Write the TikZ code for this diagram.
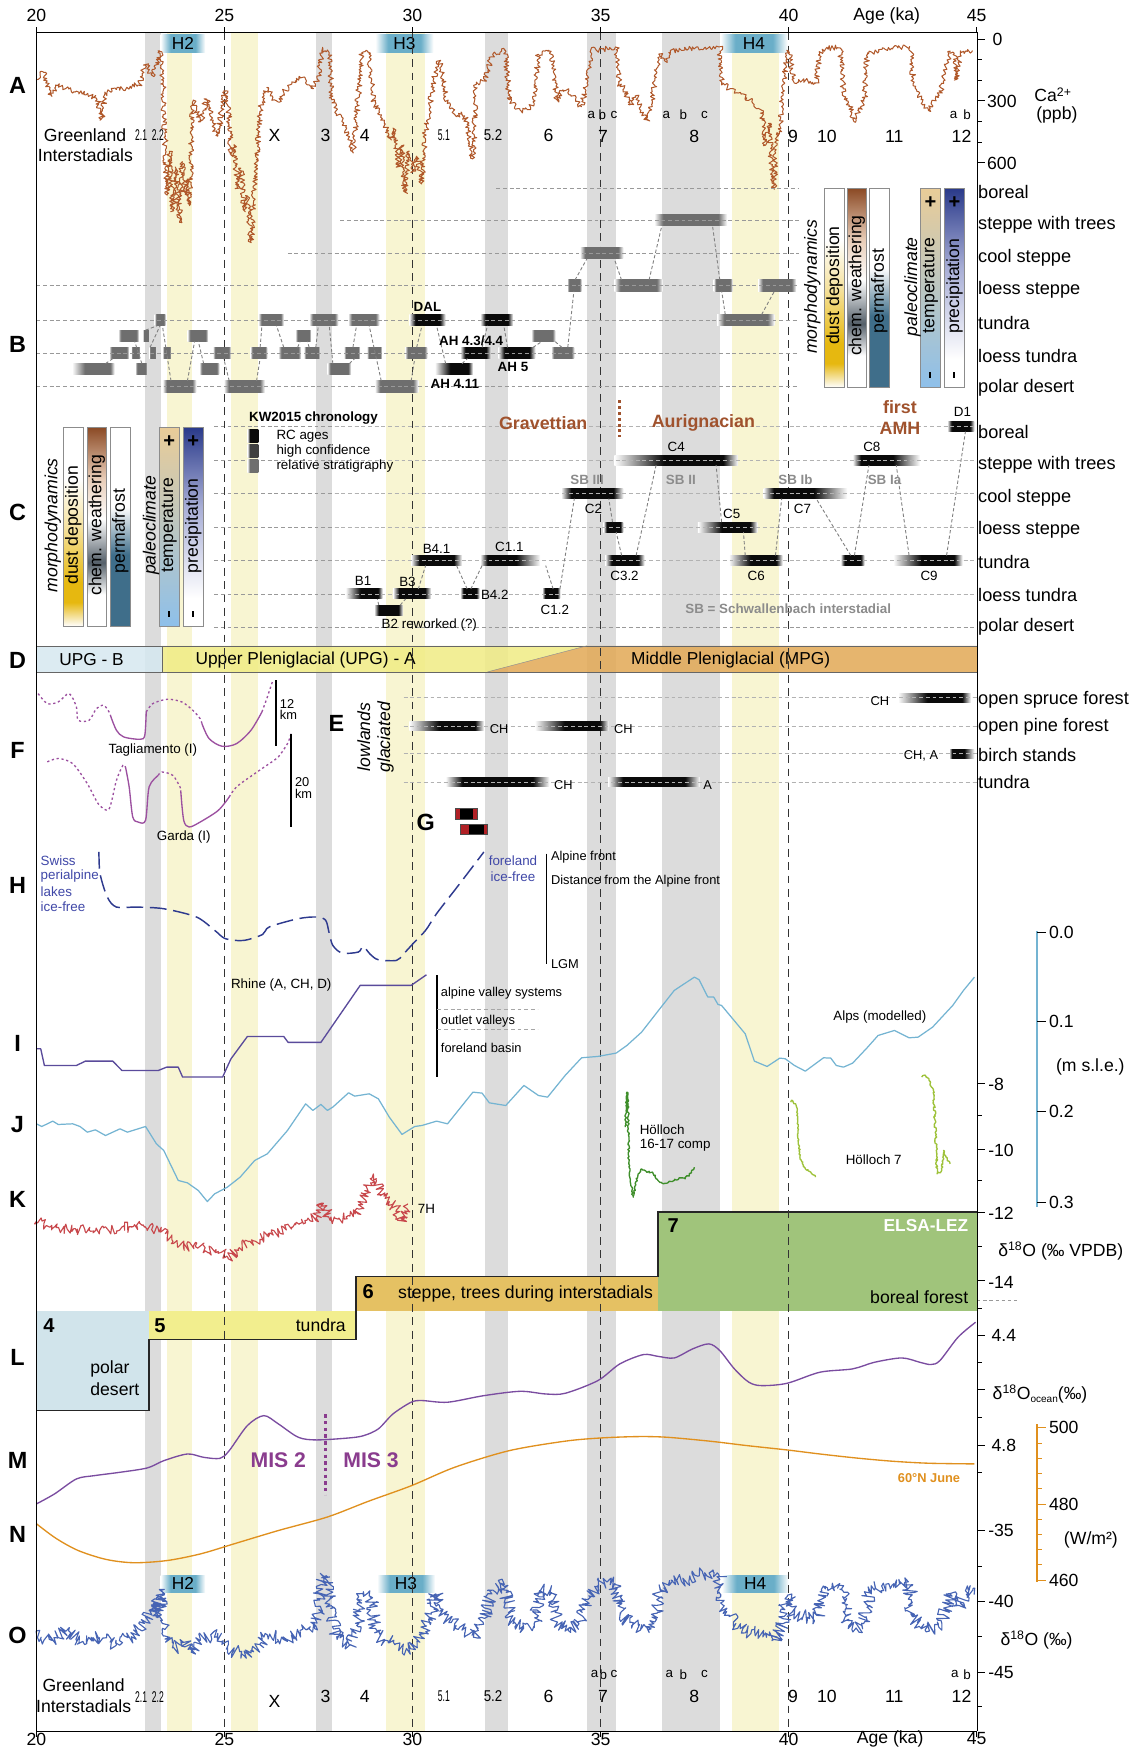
\documentclass[tikz,border=0pt]{standalone}
\usepackage{fontspec}
\usepackage{graphicx}
\setmainfont{Liberation Sans}
\usetikzlibrary{decorations.pathmorphing,calc}
\definecolor{gband}{HTML}{DCDCDC}
\definecolor{yband}{HTML}{F8F5D2}
\definecolor{caC}{HTML}{B0582A}
\definecolor{kC}{HTML}{C8484C}
\definecolor{oC}{HTML}{4664B4}
\definecolor{jC}{HTML}{74B4D2}
\definecolor{iC}{HTML}{5A4B9B}
\definecolor{mC}{HTML}{7A4CA0}
\definecolor{nC}{HTML}{E0901E}
\definecolor{fC}{HTML}{9C50A0}
\definecolor{hC}{HTML}{2E3A8E}
\definecolor{htxt}{HTML}{4048A8}
\definecolor{g1C}{HTML}{3E8E2A}
\definecolor{g2C}{HTML}{9EC23A}
\definecolor{dB}{HTML}{D6E8F0}
\definecolor{dY}{HTML}{F0EC84}
\definecolor{dO}{HTML}{E2A955}
\definecolor{lfour}{HTML}{D1E4EB}
\definecolor{lfive}{HTML}{F2EE8E}
\definecolor{lsix}{HTML}{E5C163}
\definecolor{lseven}{HTML}{A0C47B}
\definecolor{brn}{HTML}{A0522D}
\definecolor{sbg}{HTML}{8C8C8C}
\definecolor{misC}{HTML}{8A3C8E}
\definecolor{bgr}{HTML}{6E6E6E}
\definecolor{bdk}{HTML}{404040}
\definecolor{bk}{HTML}{0A0A0A}
\definecolor{hpill}{HTML}{6AAEC8}
\definecolor{dustY}{HTML}{E6B810}
\definecolor{dustL}{HTML}{F5E2A0}
\definecolor{chemB}{HTML}{8B4A25}
\definecolor{chemL}{HTML}{E8CDB8}
\definecolor{chemG}{HTML}{55606A}
\definecolor{permB}{HTML}{3F6E8A}
\definecolor{tempT}{HTML}{E9CC98}
\definecolor{tempB}{HTML}{8EC0EA}
\definecolor{precN}{HTML}{2A3A8A}
\definecolor{precM}{HTML}{A8AED6}
\definecolor{gRed}{HTML}{B02025}
\pgfdeclarehorizontalshading{shGr}{100bp}{color(0bp)=(white); color(25bp)=(white); color(31bp)=(bgr); color(69bp)=(bgr); color(75bp)=(white); color(100bp)=(white)}
\pgfdeclarehorizontalshading{shGrL}{100bp}{color(0bp)=(white); color(25bp)=(white); color(40bp)=(bgr); color(70bp)=(bgr); color(75bp)=(white); color(100bp)=(white)}
\pgfdeclarehorizontalshading{shBk}{100bp}{color(0bp)=(white); color(25bp)=(white); color(33bp)=(bk); color(67bp)=(bk); color(75bp)=(white); color(100bp)=(white)}
\pgfdeclarehorizontalshading{shBkL}{100bp}{color(0bp)=(white); color(25bp)=(white); color(45bp)=(bk); color(69bp)=(bk); color(75bp)=(white); color(100bp)=(white)}
\pgfdeclarehorizontalshading{shBkR}{100bp}{color(0bp)=(white); color(25bp)=(white); color(31bp)=(bk); color(55bp)=(bk); color(75bp)=(white); color(100bp)=(white)}
\pgfdeclarehorizontalshading{shH}{100bp}{color(0bp)=(white); color(25bp)=(white); color(36bp)=(hpill); color(64bp)=(hpill); color(75bp)=(white); color(100bp)=(white)}
\pgfdeclarehorizontalshading{legK}{100bp}{color(0bp)=(white); color(25bp)=(white); color(36bp)=(bk); color(100bp)=(bk)}
\pgfdeclarehorizontalshading{legD}{100bp}{color(0bp)=(white); color(25bp)=(white); color(36bp)=(bdk); color(100bp)=(bdk)}
\pgfdeclarehorizontalshading{legG}{100bp}{color(0bp)=(white); color(25bp)=(white); color(36bp)=(bgr); color(100bp)=(bgr)}
\pgfdeclareverticalshading{dustsh}{100bp}{color(0bp)=(white); color(25bp)=(white); color(31bp)=(dustY); color(36bp)=(dustY); color(50bp)=(dustL); color(62bp)=(white); color(100bp)=(white)}
\pgfdeclareverticalshading{chemsh}{100bp}{color(0bp)=(white); color(25bp)=(white); color(33bp)=(white); color(41bp)=(chemG); color(52bp)=(white); color(62bp)=(chemL); color(75bp)=(chemB); color(100bp)=(chemB)}
\pgfdeclareverticalshading{permsh}{100bp}{color(0bp)=(permB); color(25bp)=(permB); color(43bp)=(permB); color(55bp)=(white); color(100bp)=(white)}
\pgfdeclareverticalshading{tempsh}{100bp}{color(0bp)=(tempB); color(25bp)=(tempB); color(75bp)=(tempT); color(100bp)=(tempT)}
\pgfdeclareverticalshading{precsh}{100bp}{color(0bp)=(white); color(25bp)=(white); color(32bp)=(white); color(55bp)=(precM); color(75bp)=(precN); color(100bp)=(precN)}
\newcommand\fsz[1]{\fontsize{#1}{#1}\selectfont}
\newcommand\blk[6]{\node[blkbase,shading=#1,minimum width={(#4)-(#3)},minimum height=#6] (#2) at ({((#3)+(#4))/2},#5) {};}
\newcommand\cnx[4]{\draw[conn] (#1.north -| #2,0) -- (#3.south -| #4,0);}
\newcommand\cnd[1]{\scalebox{0.55}[1]{#1}}
\begin{document}
\begin{tikzpicture}[x=1pt,y=-1pt,
 every node/.style={inner sep=0pt,outer sep=0pt},
 lbl/.style={font=\fsz{15.8}},
 lblw/.style={font=\fsz{15.8},anchor=west},
 rlbl/.style={font=\fsz{16.3},anchor=west},
 big/.style={font=\fsz{21}\bfseries},
 sm/.style={font=\fsz{12}},
 smw/.style={font=\fsz{11.5},anchor=west},
 rowline/.style={draw=black!40,dash pattern=on 3.5pt off 2.5pt,line width=0.6pt},
 conn/.style={draw=black!50,dash pattern=on 3pt off 2pt,line width=0.8pt},
 vdash/.style={draw=black!80,dash pattern=on 7pt off 5pt,line width=0.7pt},
 blkbase/.style={shade,draw=none},
 barbox/.style={shade,draw=black!45,line width=0.6pt,minimum width=17.4pt,minimum height=178.4pt},
 pill/.style={shade,shading=shH,minimum height=16pt,font=\fsz{15.5}},
 sbl/.style={font=\fsz{12}\bfseries,text=sbg},
 brl/.style={font=\fsz{16}\bfseries,text=brn},
 tick/.style={line width=0.8pt},
 noisy/.style={line join=round,decorate,decoration={random steps,segment length=1.2pt,amplitude=#1,transform={xscale=0.25}}}
]
\useasboundingbox (0,0) rectangle (1018,1568);
\fill[white] (0,0) rectangle (1018,1568);
% ---------- bands
\foreach \a/\b in {130/144.5, 283/297.5, 435/455.6, 526.6/552.6, 593.7/645.7}
  \fill[gband] (\a,29) rectangle (\b,1552);
\foreach \a/\b in {149.4/171.9, 207/231.5, 346.4/381, 656/698.5}
  \fill[yband] (\a,29) rectangle (\b,1552);
% ---------- H pills
\node[pill,minimum width=40pt] (ph2) at (164,39) {H2};
\node[pill,minimum width=52pt] (ph3) at (362.5,39) {H3};
\node[pill,minimum width=60pt] (ph4) at (676,39) {H4};
\node[pill,minimum width=40pt] (qh2) at (164,1420) {H2};
\node[pill,minimum width=52pt] (qh3) at (364,1420) {H3};
\node[pill,minimum width=60pt] (qh4) at (677,1420) {H4};
% ---------- C and E row lines
\foreach \y in {382.5,412.5,442.5,472.5,502.5,532.5,562.5}
  \draw[rowline] (192,\y) -- (876,\y);
\foreach \y in {625.4,650.8,675.6,701}
  \draw[rowline] (362,\y) -- (876,\y);
% ---------- D band
\fill[dB,fill opacity=0.85] (32.6,579) rectangle (145.1,602.4);
\fill[dY,fill opacity=0.85] (145.1,579) -- (526,579) -- (437,602.4) -- (145.1,602.4) -- cycle;
\fill[dO,fill opacity=0.85] (437,602.4) -- (526,579) -- (876,579) -- (876,602.4) -- cycle;
\draw[black!60,line width=0.6pt] (32.6,579) rectangle (876,602.4);
\draw[black!60,line width=0.6pt] (145.1,579) -- (145.1,602.4);
\draw[black!45,line width=0.4pt] (437,602.4) -- (526,579);
\node[font=\fsz{15.5}] (dtb) at (82,591.5) {UPG - B};
\node[font=\fsz{15.5}] (dta) at (274,591.5) {Upper Pleniglacial (UPG) - A};
\node[font=\fsz{15.5}] (dtm) at (655,591.5) {Middle Pleniglacial (MPG)};
% ---------- L boxes
\fill[lfour] (32.6,1175) rectangle (133.7,1264.6);
\fill[lfive] (133.7,1175) rectangle (319,1200.9);
\fill[lsix] (319,1144.4) rectangle (589.9,1175.5);
\fill[lseven] (589.9,1086.7) rectangle (876,1175.5);
\draw[line width=1.6pt,black!85] (32.6,1264.6) -| (133.7,1200.9) -| (319,1144.4) -| (589.9,1086.7) -- (876,1086.7);
\node[font=\fsz{18}\bfseries] (l4n) at (44,1188.4) {4};
\node[lblw] (l4a) at (81,1227.2) {polar};
\node[lblw] (l4b) at (81,1245.2) {desert};
\node[font=\fsz{18}\bfseries] (l5n) at (143.5,1188.4) {5};
\node[lbl,anchor=east] (l5a) at (310,1188.4) {tundra};
\node[font=\fsz{18}\bfseries] (l6n) at (330,1157.6) {6};
\node[lblw] (l6a) at (357,1160) {steppe, trees during interstadials};
\node[font=\fsz{18}\bfseries] (l7n) at (603.6,1098.5) {7};
\node[font=\fsz{15.5}\bfseries,text=white,anchor=east] (l7a) at (868,1098.5) {ELSA-LEZ};
\node[lbl,anchor=east] (l7b) at (868,1163) {boreal forest};
% ---------- vertical dashed lines
\foreach \k in {1,2,3,4}
  \draw[vdash] ({32.6+168.6*\k},29) -- ({32.6+168.6*\k},1552);
% ---------- A: Ca curve
\pgfmathsetseed{11}
\draw[caC,line width=0.9pt,noisy=2.6pt]
 plot coordinates {(32.6,72) (39,64) (45.7,86) (52,76) (60,80) (70,82) (80,84) (88,90) (91,108) (94,84) (105,80) (115,78) (125,76) (130.5,57) (136,68) (140,60) (143.5,45) (146,70) (148.4,140) (150,175) (152,135) (155,190) (158,150) (161,200) (163,145) (166,175) (168,160) (170,185) (172,120) (173,90) (176,100) (180,110) (185,88) (188,95) (192,115) (195.7,122) (199,95) (202,81) (205,100) (207,140) (210,130) (213,170) (216,150) (219,190) (222,175) (225,218) (228,165) (231,130) (233,99) (237,85) (241,78) (245,88) (250,92) (255,82) (260,78) (265,72) (270,69) (275,76) (280,80) (285,70) (288.6,45) (295,45) (297.5,90) (302,100) (307,110) (313,125) (316.4,137) (320,100) (324.5,46) (331,46) (334.3,90) (340,100) (345,110) (350,125) (353,115) (357,150) (360,130) (363,173) (366,135) (370,155) (374,140) (378,165) (381,120) (385,98) (389,70) (393,54) (396,60) (399.5,87) (404,95) (409,105) (414,100) (419,110) (424,143) (427,75) (434,72) (442,48) (453,45) (456.6,90) (462,96) (468,100) (474,98) (479,92) (482.7,48) (492.5,45) (497,60) (499,90) (505,80) (511,82) (516.5,90) (521.6,96) (528,60) (529.6,45) (541,44) (552.4,42) (555,75) (560,80) (565,95) (570,85) (575,100) (580,108) (584.9,90) (591.4,48) (596,55) (600,46) (620,43) (645.3,42) (647,75) (655,80) (663,84) (670,88) (675,92) (682.8,99) (686,131) (689,110) (692,150) (694,170) (696,120) (699,120) (704,60) (707,45) (712,75) (720,72) (731.6,75) (735,48) (741,43) (753.3,43) (756.5,87) (762,95) (766,110) (770,98) (775,90) (777.6,48) (790,44) (816,42) (819,75) (826,90) (833,100) (839,88) (842,87) (852,45) (856,48) (858,72) (861,48) (873,45)};
% ---------- A labels
\node[lbl] (grA) at (76.3,121) {Greenland};
\node[lbl] (grB) at (76.6,139) {Interstadials};
\node[font=\fsz{14}] (g21) at (126.5,121) {\cnd{2.1}};
\node[font=\fsz{14}] (g22) at (141.5,121) {\cnd{2.2}};
\node[lbl] (gX) at (246.2,121) {X};
\node[lbl] (g3) at (291.9,121) {3};
\node[lbl] (g4) at (327.1,121) {4};
\node[font=\fsz{14}] (g51) at (397.9,121) {\cnd{5.1}};
\node[font=\fsz{14}] (g52) at (442,121) {\scalebox{0.85}[1]{5.2}};
\node[lbl] (g6) at (491.8,121) {6};
\node[lbl] (g7) at (540.6,122) {7};
\node[lbl] (g8) at (622.5,122) {8};
\node[lbl] (g9) at (711,122) {9};
\node[lbl] (g10) at (741.4,122) {10};
\node[lbl] (g11) at (801.7,122) {11};
\node[lbl] (g12) at (862,122) {12};
\foreach \x/\t [count=\i] in {530.1/a,540/b,550.5/c,597.3/a,612.6/b,631.5/c,855/a,867/b}
  \node[sm] (gab\i) at (\x,103) {\t};
% ---------- B row lines and blocks
\blk{shGrL}{b1}{64.6}{102.7}{331}{10}
\blk{shGr}{b2}{97.8}{115.8}{316.5}{10}
\blk{shGr}{b3}{106}{124.6}{301}{10}
\blk{shGr}{b4}{117.4}{125.6}{316.5}{10}
\blk{shGr}{b5}{121.3}{132}{331}{10}
\blk{shGr}{b6}{128}{133.7}{301}{10}
\blk{shGr}{b7}{133.7}{140}{316.5}{10}
\blk{shGr}{b8}{138.6}{148.4}{287}{10}
\blk{shGr}{b9}{145.8}{153.3}{316.5}{10}
\blk{shGr}{b10}{145.8}{176}{346.5}{10}
\blk{shGr}{b11}{168}{186.6}{301}{10}
\blk{shGr}{b12}{178.7}{196.7}{331}{10}
\blk{shGr}{b13}{190.8}{207}{316.5}{10}
\blk{shGr}{b14}{200.6}{237.4}{346.5}{10}
\blk{shGr}{b15}{224.4}{239.7}{316.5}{10}
\blk{shGr}{b16}{231.6}{254.4}{287}{10}
\blk{shGr}{b17}{249.5}{270}{316.5}{10}
\blk{shGr}{b18}{264.8}{278.9}{301}{10}
\blk{shGr}{b19}{272.3}{287}{316.5}{10}
\blk{shGr}{b20}{277.2}{303.3}{287}{10}
\blk{shGr}{b21}{293.5}{314.7}{331}{10}
\blk{shGr}{b22}{308.2}{322.9}{316.5}{10}
\blk{shGr}{b23}{312}{340.2}{287}{10}
\blk{shGr}{b24}{328.8}{342.5}{316.5}{10}
\blk{shGr}{b25}{336}{375}{346.5}{10}
\blk{shGr}{b26}{363}{383.2}{316.5}{10}
\blk{shBk}{b27}{367}{399.5}{287}{10}
\blk{shBkL}{b28}{389.8}{424}{331}{10}
\blk{shBk}{b29}{412.6}{440.3}{316.5}{10}
\blk{shBk}{b30}{430.5}{460}{287}{10}
\blk{shBk}{b31}{446.8}{480}{316.5}{10}
\blk{shGr}{b32}{476.2}{498}{301}{10}
\blk{shGr}{b33}{494}{515}{316.5}{10}
\blk{shGr}{b35}{508.4}{521.4}{256}{10}
\blk{shGr}{b36}{519.8}{558.9}{227}{10}
\blk{shGr}{b37}{550.7}{594}{256}{10}
\blk{shGr}{b38}{586.6}{651.8}{197.5}{10}
\blk{shGr}{b39}{639.8}{656.7}{256}{10}
\blk{shGr}{b40}{643}{694.3}{287}{10}
\blk{shGr}{b41}{679.6}{713.8}{256}{10}
\draw[rowline] (445,169) -- (716,169);
\draw[rowline] (305,197.5) -- (716,197.5);
\draw[rowline] (258,227) -- (716,227);
\foreach \y in {256,287,316.5,346.5}
  \draw[rowline] (32.6,\y) -- (716,\y);
\cnx{b1}{94.6}{b2}{101.1}
\cnx{b5}{127.2}{b3}{120.7}
\cnx{b6}{130.5}{b8}{140.9}
\cnx{b7}{134.5}{b8}{143.5}
\cnx{b10}{153.3}{b8}{145.6}
\cnx{b10}{168}{b11}{174.5}
\cnx{b12}{182.6}{b11}{177.8}
\cnx{b14}{205.5}{b13}{200.6}
\cnx{b14}{230}{b15}{233.2}
\cnx{b15}{233.2}{b16}{234.8}
\cnx{b17}{254.4}{b16}{247.9}
\cnx{b17}{266.8}{b18}{269.1}
\cnx{b19}{277.2}{b18}{275.6}
\cnx{b19}{283.1}{b20}{285.4}
\cnx{b21}{298.4}{b20}{295.2}
\cnx{b21}{313.1}{b22}{318}
\cnx{b22}{316.4}{b23}{319.6}
\cnx{b25}{341.8}{b23}{331}
\cnx{b25}{368.6}{b26}{371.8}
\cnx{b26}{373.5}{b27}{378.3}
\cnx{b28}{399.5}{b27}{391.4}
\cnx{b28}{414.2}{b29}{419.1}
\cnx{b29}{432.2}{b30}{437}
\cnx{b31}{455}{b30}{451.7}
\cnx{b31}{477.8}{b32}{486}
\cnx{b33}{503.9}{b32}{497.4}
\cnx{b33}{509}{b35}{514.5}
\cnx{b35}{515.5}{b36}{526.2}
\cnx{b37}{557.2}{b36}{550.7}
\cnx{b37}{581.9}{b38}{593.3}
\cnx{b39}{645.3}{b38}{638.8}
\cnx{b40}{650.2}{b39}{647}
\cnx{b40}{682.8}{b41}{694.3}
\node[font=\fsz{12}\bfseries] (tDAL) at (383.2,275) {DAL};
\node[font=\fsz{12}\bfseries] (tAH43) at (422.4,305.8) {AH 4.3/4.4};
\node[font=\fsz{12}\bfseries] (tAH5) at (459.9,328.8) {AH 5};
\node[font=\fsz{12}\bfseries] (tAH411) at (407.7,343.8) {AH 4.11};
% ---------- B legend bars
\node[barbox,shading=dustsh] (bdust) at (748.1,258.1) {};
\node[barbox,shading=chemsh] (bchem) at (768.05,258.1) {};
\node[barbox,shading=permsh] (bperm) at (788.25,258.1) {};
\node[barbox,shading=tempsh] (btemp) at (834.15,258.1) {};
\node[barbox,shading=precsh] (bprec) at (855.7,258.1) {};
\node[lbl,rotate=90] (tbd) at (748.1,256) {dust deposition};
\node[lbl,rotate=90] (tbc) at (768.05,256) {chem. weathering};
\node[lbl,rotate=90] (tbp) at (788.25,261) {permafrost};
\node[lbl,rotate=90] (tbt) at (834.15,256) {temperature};
\node[lbl,rotate=90] (tbr) at (855.7,256.6) {precipitation};
\node[lbl,rotate=90,font=\fsz{15.8}\itshape] (tbm) at (728.3,257) {morphodynamics};
\node[lbl,rotate=90,font=\fsz{15.8}\itshape] (tbk) at (818.2,257) {paleoclimate};
\node[font=\fsz{18}\bfseries] (bpl1) at (834.15,181.7) {+};
\node[font=\fsz{18}\bfseries] (bpl2) at (855.7,181.7) {+};
\node[fill=black,minimum width=1.8pt,minimum height=5.5pt] (bmi1) at (834.15,336.3) {};
\node[fill=black,minimum width=1.8pt,minimum height=5.5pt] (bmi2) at (855.7,336.3) {};
% ---------- B labels right
\foreach \t/\y [count=\i] in {boreal/172.5,steppe with trees/201.5,cool steppe/231,loess steppe/260,tundra/289.5,loess tundra/319,polar desert/348}
  \node[rlbl] (rb\i) at (877,\y) {\t};
% ---------- C legend bars
\node[barbox,shading=dustsh] (cdust) at (65.7,472.3) {};
\node[barbox,shading=chemsh] (cchem) at (86.75,472.3) {};
\node[barbox,shading=permsh] (cperm) at (107.95,472.3) {};
\node[barbox,shading=tempsh] (ctemp) at (151.7,472.3) {};
\node[barbox,shading=precsh] (cprec) at (173.2,472.3) {};
\node[lbl,rotate=90] (tcd) at (65.7,471) {dust deposition};
\node[lbl,rotate=90] (tcc) at (86.75,471) {chem. weathering};
\node[lbl,rotate=90] (tcp) at (107.95,476) {permafrost};
\node[lbl,rotate=90] (tct) at (151.7,471) {temperature};
\node[lbl,rotate=90] (tcr) at (173.2,471.5) {precipitation};
\node[lbl,rotate=90,font=\fsz{15.8}\itshape] (tcm) at (47.3,471) {morphodynamics};
\node[lbl,rotate=90,font=\fsz{15.8}\itshape] (tck) at (135.4,471) {paleoclimate};
\node[font=\fsz{18}\bfseries] (cpl1) at (151.7,396) {+};
\node[font=\fsz{18}\bfseries] (cpl2) at (173.2,396) {+};
\node[fill=black,minimum width=1.8pt,minimum height=5.5pt] (cmi1) at (151.7,550.5) {};
\node[fill=black,minimum width=1.8pt,minimum height=5.5pt] (cmi2) at (173.2,550.5) {};
% ---------- KW legend
\node[font=\fsz{12}\bfseries,anchor=west] (kwt) at (223.4,375) {KW2015 chronology};
\node[blkbase,shading=legK,minimum width=9.8pt,minimum height=12pt] (kw1) at (226.7,390.7) {};
\node[blkbase,shading=legD,minimum width=9.8pt,minimum height=12pt] (kw2) at (226.7,404.1) {};
\node[blkbase,shading=legG,minimum width=9.8pt,minimum height=12pt] (kw3) at (226.7,417.6) {};
\node[font=\fsz{12},anchor=west] (kwa) at (247.9,390.7) {RC ages};
\node[font=\fsz{12},anchor=west] (kwb) at (247.9,404.1) {high confidence};
\node[font=\fsz{12},anchor=west] (kwc) at (247.9,417.6) {relative stratigraphy};
% ---------- C blocks
\blk{shBkL}{cB1}{309.8}{343.1}{532.5}{9}
\blk{shBk}{cB2}{335.3}{361.4}{547}{9}
\blk{shBk}{cB3}{352.3}{386.5}{532.5}{9}
\blk{shBk}{cB41}{368.6}{414.2}{502.5}{9}
\blk{shBk}{cB42}{412.6}{429.9}{532.5}{9}
\blk{shBkR}{cC11}{430.5}{484.3}{502.5}{9}
\blk{shBk}{cC12}{486}{502.3}{532.5}{9}
\blk{shBk}{cC2}{503}{558.9}{442.5}{9}
\blk{shBk}{cC3}{541}{558.9}{472.5}{9}
\blk{shBk}{cC32}{542.6}{577.8}{502.5}{9}
\blk{shBkL}{cC4}{550.7}{661.6}{412.5}{9}
\blk{shBkL}{cC5}{625.7}{678.9}{472.5}{9}
\blk{shBkL}{cC6}{653.5}{701.7}{502.5}{9}
\blk{shBkR}{cC7}{684.5}{759.5}{442.5}{9}
\blk{shBk}{cX}{753.6}{775.1}{502.5}{9}
\blk{shBkR}{cC8}{764.4}{824.7}{412.5}{9}
\blk{shBkL}{cC9}{800.9}{862.9}{502.5}{9}
\blk{shBk}{cD1}{849.2}{873.6}{382.5}{9}
\foreach \y in {382.5,412.5,442.5,472.5,502.5,532.5}
  \draw[rowline,draw=black!30] (300,\y) -- (876,\y);
\cnx{cB2}{339.6}{cB1}{338.3}
\cnx{cB2}{358.8}{cB3}{363.6}
\cnx{cB3}{375}{cB41}{381.6}
\cnx{cB42}{418.8}{cB41}{409.3}
\cnx{cB42}{422.1}{cC11}{432.2}
\cnx{cC12}{495.9}{cC11}{489.2}
\cnx{cC12}{502}{cC2}{514.9}
\cnx{cC3}{549.1}{cC2}{545.8}
\cnx{cC32}{557.3}{cC3}{552.4}
\cnx{cC32}{570.3}{cC4}{588.2}
\cnx{cC5}{646.9}{cC4}{642}
\cnx{cC6}{668.1}{cC5}{666.5}
\cnx{cC6}{695.2}{cC7}{700.8}
\cnx{cX}{762.7}{cC7}{731.7}
\cnx{cX}{766}{cC8}{779}
\cnx{cC9}{815}{cC8}{803.5}
\cnx{cC9}{848.6}{cD1}{865.5}
\node[sm] (tB1) at (325.5,521) {B1};
\node[sm] (tB3) at (365.3,521.6) {B3};
\node[sm] (tB2) at (384.9,560.5) {B2 reworked (?)};
\node[sm] (tB41) at (391.4,491.7) {B4.1};
\node[sm] (tB42) at (443.6,533) {B4.2};
\node[sm] (tC11) at (456.6,490.2) {C1.1};
\node[sm] (tC12) at (497.4,547) {C1.2};
\node[sm] (tC2) at (532.1,455.9) {C2};
\node[sm] (tC32) at (559.9,516.3) {C3.2};
\node[sm] (tC4) at (606.2,400.6) {C4};
\node[sm] (tC5) at (656,461) {C5};
\node[sm] (tC6) at (678,516.3) {C6};
\node[sm] (tC7) at (719.4,455.9) {C7};
\node[sm] (tC8) at (781.6,400.6) {C8};
\node[sm] (tC9) at (832.9,516.3) {C9};
\node[sm] (tD1) at (862.9,369.2) {D1};
\node[sbl] (sb3) at (526.3,430.5) {SB III};
\node[sbl] (sb2) at (610.4,430.5) {SB II};
\node[sbl] (sb1b) at (713.2,430.5) {SB Ib};
\node[sbl] (sb1a) at (793,430.5) {SB Ia};
\node[sbl] (sbx) at (706.6,545.5) {SB = Schwallenbach interstadial};
\node[brl] (grav) at (487,379) {Gravettian};
\node[brl] (auri) at (630.6,379.6) {Aurignacian};
\node[brl] (amh1) at (806.8,365.3) {first};
\node[brl] (amh2) at (806.8,384) {AMH};
\draw[brn,line width=2.6pt,dash pattern=on 2.6pt off 2.6pt] (555,359) -- (555,392);
\foreach \t/\y [count=\i] in {boreal/387,steppe with trees/416.5,cool steppe/446,loess steppe/475,tundra/504,loess tundra/533,polar desert/562}
  \node[rlbl] (rc\i) at (877,\y) {\t};
% ---------- E
\blk{shBkL}{e1}{366.9}{433.8}{650.8}{8}
\blk{shBkL}{e2}{479.4}{545.8}{650.8}{8}
\blk{shBk}{e3}{399.5}{492.5}{701}{8}
\blk{shBk}{e4}{545.2}{627.4}{701}{8}
\blk{shBkL}{e5}{805.1}{870.4}{625.4}{8}
\blk{shBkR}{e6}{850.8}{873.6}{675.6}{8}
\foreach \y in {625.4,650.8,675.6,701}
  \draw[rowline,draw=black!30] (362,\y) -- (876,\y);
\node[font=\fsz{11.5}] (ech1) at (447.5,653.2) {CH};
\node[font=\fsz{11.5}] (ech2) at (558.9,653.2) {CH};
\node[font=\fsz{11.5}] (ech3) at (505,703.5) {CH};
\node[font=\fsz{11.5}] (ea4) at (634.5,704) {A};
\node[font=\fsz{11.5}] (ech5) at (788.8,628.7) {CH};
\node[font=\fsz{11.5}] (ech6) at (825.7,677.7) {CH, A};
\node[font=\fsz{15.8}\itshape,rotate=90] (elow) at (326.2,660.7) {lowlands};
\node[font=\fsz{15.8}\itshape,rotate=90] (eglac) at (345.7,661) {glaciated};
\foreach \t/\y [count=\i] in {open spruce forest/627.8,open pine forest/652,birch stands/677,tundra/701}
  \node[rlbl] (re\i) at (877,\y) {\t};
% ---------- F
\tikzset{fdot/.style={fC,line width=1.2pt,dash pattern=on 2pt off 2.4pt},fsol/.style={fC,line width=1.2pt}}
\draw[fdot] plot[smooth] coordinates {(34.2,621.8) (42.4,630.8) (52.2,629.3) (62,621.8) (68.5,633.8) (70.1,645.7) (79.9,645.7) (86.4,635.3) (93,632.3) (97.8,638.3) (99.5,642.8)};
\draw[fsol] plot[smooth] coordinates {(99.5,642.8) (104.4,654.7) (110.9,660.7) (125.6,662.8) (129.8,659.2) (131.1,638.3)};
\draw[fdot] plot[smooth] coordinates {(131.1,638.3) (137,630.8) (150,626.9) (163,629.3) (172.9,636.8) (179.4,644.3) (181,648.7)};
\draw[fsol] plot[smooth] coordinates {(181,648.7) (187.5,662.2) (199,669) (212,666.7) (225,654.7) (234.8,638.3)};
\draw[fdot] plot[smooth] coordinates {(234.8,638.3) (239.7,624.8) (244.6,609.9)};
\draw[fdot] plot[smooth] coordinates {(42.4,683) (52.2,680) (65.2,684.6) (78.3,702.6) (88,720.5) (96.2,726.5) (99.5,720.5) (104.4,699.6) (110.2,686.1) (112.5,687.6)};
\draw[fsol] plot[smooth] coordinates {(112.5,687.6) (115.8,705.5) (119,732.4) (124,737) (130.5,735.4) (133.7,705.5) (141.9,695.1)};
\draw[fdot] plot[smooth] coordinates {(141.9,695.1) (145.1,692.1) (154.9,695.1) (161.4,705.5) (162,708.5)};
\draw[fsol] plot[smooth] coordinates {(162,708.5) (164.7,735.4) (169.6,741.4) (179.4,737) (195.7,726.5) (205.5,714.5)};
\draw[fdot] plot[smooth] coordinates {(205.5,714.5) (212,705.5) (228.3,693.6) (241.4,684.6) (249.5,678.6) (257.7,666.7) (261,657.7)};
\node[font=\fsz{12}] (ftag) at (137,672.7) {Tagliamento (I)};
\node[font=\fsz{12}] (fgar) at (164.7,750.4) {Garda (I)};
\draw[line width=1.6pt] (247.2,609.9) -- (247.2,669);
\draw[line width=1.6pt] (261,657.7) -- (261,741.4);
\node[font=\fsz{11.5},anchor=west] (f12) at (251,630.8) {12};
\node[font=\fsz{11.5},anchor=west] (f12k) at (251,641.3) {km};
\node[font=\fsz{11.5},anchor=west] (f20) at (264.5,701) {20};
\node[font=\fsz{11.5},anchor=west] (f20k) at (264.5,711.5) {km};
% ---------- G
\fill[gRed] (408.4,725) rectangle (427.9,734);
\fill[black] (412.6,725) rectangle (424,734);
\draw[black!70,line width=0.4pt] (408.4,725) rectangle (427.9,734);
\fill[gRed] (412.6,739.3) rectangle (436.4,748.3);
\fill[black] (420.7,739.3) rectangle (433.8,748.3);
\draw[black!70,line width=0.4pt] (412.6,739.3) rectangle (436.4,748.3);
% ---------- H
\draw[hC,line width=1.3pt,dash pattern=on 15pt off 6pt] plot[smooth,tension=0.5] coordinates {(88.7,763.8) (89.7,783.3) (96.2,804.2) (104.4,813.2) (122.3,813.2) (146.8,814.7) (176.1,822.1) (192.4,834) (202.2,841.6) (218.5,843.1) (235.5,837.7) (241.4,831) (267.4,823.6) (283.8,822.1) (292,825.1) (295.2,837) (298.4,847.6) (306.6,854.4) (321.3,853.5) (325.5,848.4) (332,855.6) (339.2,860.4) (355.5,861) (361.4,855.6) (370.2,846.1) (381.6,834) (391.4,819.1) (411,793.7) (433.8,763.8)};
\foreach \t/\y [count=\i] in {Swiss/771.3,perialpine/785.7,lakes/799.7,ice-free/813.2}
  \node[font=\fsz{12},text=htxt,anchor=west] (hs\i) at (36.5,\y) {\t};
\node[font=\fsz{12},text=htxt] (hf1) at (459.9,771.3) {foreland};
\node[font=\fsz{12},text=htxt] (hf2) at (459.9,785.7) {ice-free};
\draw[line width=1.6pt] (489.9,765.3) -- (489.9,864);
\node[smw] (ha1) at (494,768.3) {Alpine front};
\node[smw] (ha2) at (494,789.8) {Distance from the Alpine front};
\node[smw] (ha3) at (494,864) {LGM};
% ---------- I
\draw[iC,line width=1.2pt,line join=round] plot coordinates {(32.6,940.2) (36.5,940.2) (39.8,955.2) (68.5,955.2) (76.6,951.3) (101.1,951.3) (109.3,959.7) (141.9,959.7) (149.4,956.7) (159.8,956.7) (163.7,965.6) (199.6,965.6) (203,958) (207.1,949.2) (221.8,929.2) (254.4,929.2) (258.3,934.5) (287.7,934.5) (322.9,883.4) (368.6,883.4) (382.3,873.9)};
\node[font=\fsz{12},anchor=west] (irh) at (207.1,883.4) {Rhine (A, CH, D)};
\draw[line width=1.6pt] (392,874.5) -- (392,965.6);
\draw[rowline,draw=black!35] (392,905.3) -- (482,905.3);
\draw[rowline,draw=black!35] (392,922.9) -- (482,922.9);
\node[smw] (iv1) at (395.3,890.3) {alpine valley systems};
\node[smw] (iv2) at (395.3,915.4) {outlet valleys};
\node[smw] (iv3) at (395.3,939.3) {foreland basin};
% ---------- J
\draw[jC,line width=1.1pt,line join=round] plot coordinates {(32.6,1007.5) (37.5,1009.9) (47.3,1005.1) (52.2,1008.1) (65.2,1007.5) (71.7,1009.9) (78.3,1015) (85.5,1012.9) (94.6,1018) (107.6,1012) (114.2,1015) (130.5,1009.9) (140.2,1025.4) (146.8,1031.4) (159.8,1058.3) (168,1060.4) (177.8,1067.3) (185.9,1077.2) (192.4,1070.3) (203.8,1064.3) (215.3,1055.3) (228.3,1040.4) (239.7,1034.4) (257.7,1013.5) (274,989.6) (280.5,995.5) (287.7,990.1) (293.5,995.5) (298.4,992.5) (312.5,979.7) (318,982.7) (331,980.6) (339.2,985.1) (349,1001.5) (360.4,1017) (371.8,1009.9) (378.3,1009) (391.4,1005.1) (401.2,1007.5) (424,979.1) (432.2,980) (438.7,988.7) (453.4,991.1) (469.7,973.1) (482.7,982.1) (490.9,983.6) (506.7,964.1) (521.4,948.3) (536,947.1) (552.4,944.1) (562.1,937.2) (575.2,925.3) (591.5,904.4) (604.5,887.9) (622.5,876) (626.7,878.3) (634.6,893.9) (639.9,893.9) (643.7,900.5) (646.9,901.4) (668.1,926.8) (676.3,951.3) (687.7,956.1) (699.1,948.6) (704,949.2) (712.2,955.2) (722,960.3) (738.3,948.3) (744.8,948.6) (749.7,955.2) (756.2,956.7) (764.4,953.1) (777.4,939.3) (787.2,928.3) (801.9,923.8) (815,930.4) (823.1,929.8) (836.1,920.8) (854.1,901.4) (863.8,887.9) (873.6,876)};
\node[font=\fsz{12}] (jalp) at (788.8,911.8) {Alps (modelled)};
\draw[jC,line width=1.3pt] (929.7,835) -- (929.7,1082);
\foreach \y/\t [count=\i] in {835.6/0.0,915.4/0.1,996.4/0.2,1077.7/0.3} {
  \draw[tick] (929.7,\y) -- ++(8,0);
  \node[lblw] (jl\i) at (940.5,\y) {\t};
}
\node[lbl] (jun) at (977.5,956.1) {(m s.l.e.)};
% ---------- Hölloch
\pgfmathsetseed{5}
\draw[g1C,line width=1.2pt,line join=round,decorate,decoration={random steps,segment length=1.3pt,amplitude=0.9pt}] plot coordinates {(560.5,1010.5) (562.1,979.1) (563.1,989.6) (563.8,1043.4) (565.4,1061.3) (567.7,1073.3) (569.5,1063) (571.9,1053.8) (575.2,1047.9) (580,1051) (585,1050.8) (588.2,1056.8) (594.8,1061.3) (600,1059) (604.5,1058.3) (610,1056) (614.3,1056.8) (618,1053) (622.5,1046.4)};
\draw[g2C,line width=1.2pt,line join=round,decorate,decoration={random steps,segment length=1.3pt,amplitude=0.8pt}] plot coordinates {(708.9,988.1) (710.5,986.6) (713.8,991.1) (715.4,1013.5) (717.1,1037.4) (722,1047.9) (726.9,1050.8) (731.1,1055.3)};
\draw[g2C,line width=1.2pt,line join=round,decorate,decoration={random steps,segment length=1.3pt,amplitude=1pt}] plot coordinates {(826.3,965.6) (829.5,964) (832.9,968.6) (836.8,977.6) (837.8,995.5) (839.4,1031.4) (840.1,1052.3) (844.3,1049.3) (845.9,1031.4) (849.2,1040.4) (851.8,1043.4)};
\node[font=\fsz{12},anchor=west] (ho1) at (573.6,1012.9) {Hölloch};
\node[font=\fsz{12},anchor=west] (ho2) at (573.6,1026.9) {16-17 comp};
\node[font=\fsz{12}] (ho7) at (783.3,1039.8) {Hölloch 7};
% ---------- K
\pgfmathsetseed{23}
\draw[kC,line width=1pt,noisy=5pt] plot coordinates {(32.6,1095) (50,1100) (70,1102) (90,1103) (110,1100) (130,1100) (145,1105) (155,1112) (165,1118) (175,1115) (185,1122) (195,1120) (205,1128) (215,1118) (228,1112) (240,1108) (250,1104) (262,1100) (275,1096) (285,1090) (290,1078) (295,1092) (305,1092) (315,1090) (322,1088) (328,1070) (334,1055) (338,1058) (342,1072) (350,1078) (356,1085) (360,1095) (363,1085) (366,1078)};
\node[font=\fsz{12}] (k7h) at (382.3,1083.7) {7H};
% ---------- M
\draw[mC,line width=1.2pt] plot[smooth] coordinates {(32.6,1348.3) (48.9,1339.3) (68.5,1325.9) (84.8,1322.9) (107.6,1319.9) (132.1,1316) (146.8,1309.5) (168,1303.5) (182.6,1306.5) (197.3,1307.4) (205.5,1300.5) (221.8,1278) (236.5,1269.1) (249.5,1276.5) (267.4,1288.5) (283.8,1290.9) (313.1,1289.1) (326.2,1287) (339.2,1281) (352.3,1267.6) (368.6,1257.1) (378.3,1255.6) (401.2,1257.1) (433.8,1251.2) (466.4,1247.3) (489.2,1249.7) (506.7,1249.1) (536,1237.7) (555.6,1222.8) (576.8,1214.4) (590,1216) (604.5,1217.4) (620.9,1209.3) (635.5,1204.8) (645.3,1210.8) (658.4,1227.2) (671.4,1239.2) (682.8,1242.2) (705.7,1240.1) (735,1230.2) (764.4,1227.2) (783.9,1221.3) (808.4,1217.4) (824.7,1221.3) (834.5,1223.3) (842.6,1219.8) (858.9,1198.8) (874.6,1185.4)};
\draw[misC,line width=3pt,dash pattern=on 3pt off 3pt] (291.9,1268) -- (291.9,1340);
\node[font=\fsz{19}\bfseries,text=misC] (mis2) at (249.5,1309.4) {MIS 2};
\node[font=\fsz{19}\bfseries,text=misC] (mis3) at (332.7,1309.4) {MIS 3};
% ---------- N
\draw[nC,line width=1.2pt] plot[smooth] coordinates {(32.6,1366) (50,1379) (70,1390) (95,1398) (120,1401) (150,1399) (180,1393) (210,1384) (250,1372) (293.5,1360) (330,1346) (368.6,1332) (407.7,1315.4) (456.6,1300.5) (506.7,1292) (539.3,1289.1) (571.9,1287.9) (598,1288.5) (637.1,1292.1) (669.8,1296) (705.7,1299.9) (735,1303.5) (767.6,1307.1) (800.2,1310) (832.9,1311.8) (873.6,1312.4)};
\node[font=\fsz{11.5}\bfseries,text=nC] (n60) at (832.9,1325) {60°N June};
\draw[nC,line width=1.3pt] (929.7,1277) -- (929.7,1418);
\foreach \k in {0,...,10}
  \draw[nC,line width=0.8pt] (929.7,{1280.1+13.64*\k}) -- ++(4.5,0);
\foreach \k/\t [count=\i] in {0/500,5/480,10/460} {
  \draw[nC,line width=0.8pt] (929.7,{1280.1+13.64*\k}) -- ++(8,0);
  \node[lblw] (nl\i) at (940.5,{1280.1+13.64*\k}) {\t};
}
\node[lbl] (nun) at (978,1381) {(W/m²)};
% ---------- O
\pgfmathsetseed{3}
\draw[oC,line width=1pt,noisy=6.5pt] plot coordinates {(32.6,1465) (45,1470) (60,1462) (75,1472) (90,1468) (105,1475) (120,1465) (130,1455) (136,1438) (140,1450) (144,1425) (148,1470) (155,1478) (165,1472) (172,1482) (180,1470) (190,1465) (200,1472) (210,1480) (220,1485) (230,1475) (240,1465) (255,1470) (270,1462) (283,1460) (288,1420) (293,1412) (297,1440) (302,1468) (315,1475) (322,1455) (325,1428) (332,1430) (336,1465) (345,1470) (355,1475) (365,1478) (375,1470) (385,1450) (391,1428) (397,1445) (405,1455) (415,1462) (425,1468) (435,1450) (442,1425) (453,1420) (457,1455) (470,1460) (480,1455) (484,1425) (495,1428) (500,1455) (510,1462) (520,1455) (528,1430) (535,1422) (545,1418) (552,1420) (556,1448) (565,1455) (575,1462) (585,1460) (592,1425) (600,1420) (620,1415) (640,1408) (645,1412) (648,1440) (658,1455) (670,1462) (685,1468) (695,1470) (702,1455) (706,1430) (712,1448) (725,1450) (733,1448) (737,1425) (750,1422) (755,1425) (758,1450) (768,1460) (775,1455) (779,1425) (795,1420) (815,1418) (818,1450) (830,1462) (845,1455) (852,1428) (860,1440) (866,1425) (874,1430)};
\node[lbl] (grC) at (75,1511) {Greenland};
\node[lbl] (grD) at (75,1530) {Interstadials};
\node[font=\fsz{14}] (h21) at (126.5,1521) {\cnd{2.1}};
\node[font=\fsz{14}] (h22) at (141.5,1521) {\cnd{2.2}};
\node[lbl] (hX) at (246.2,1525) {X};
\node[lbl] (h3) at (291.9,1521) {3};
\node[lbl] (h4) at (327.1,1521) {4};
\node[font=\fsz{14}] (h51) at (397.9,1521) {\cnd{5.1}};
\node[font=\fsz{14}] (h52) at (442,1521) {\scalebox{0.85}[1]{5.2}};
\node[lbl] (h6) at (491.8,1521) {6};
\node[lbl] (h7) at (540.6,1521) {7};
\node[lbl] (h8) at (622.5,1521) {8};
\node[lbl] (h9) at (711,1521) {9};
\node[lbl] (h10) at (741.4,1521) {10};
\node[lbl] (h11) at (801.7,1521) {11};
\node[lbl] (h12) at (862,1521) {12};
\foreach \x/\t [count=\i] in {533/a,541/b,550.5/c,600/a,612.6/b,631.5/c,856/a,867/b}
  \node[sm] (hab\i) at (\x,1501) {\t};
% ---------- right axis ticks and labels
\foreach \y in {35,90.5,146,971.6,1030.5,1086.7,1148,1197.3,1245.8,1296,1372,1436,1499}
  \draw[tick] (876,\y) -- ++(7.5,0);
\foreach \y in {53.5,72,109,127.5,1000,1058.3,1117.5,1173.4,1221.3,1270.6,1320,1404,1467.5,1530}
  \draw[tick] (876,\y) -- ++(4.5,0);
\draw[black!40,dash pattern=on 3pt off 2.5pt,line width=0.6pt] (876,1165.4) -- (914,1165.4);
\node[lblw] (a0) at (890,35.5) {0};
\node[lblw] (a300) at (885,91) {300};
\node[lblw] (a600) at (885,146.5) {600};
\node[lbl] (aca) at (944,85) {Ca\textsuperscript{2+}};
\node[lbl] (appb) at (947.5,103) {(ppb)};
\node[lblw] (k8) at (886,972) {-8};
\node[lblw] (k10) at (886,1031) {-10};
\node[lblw] (k12) at (886,1088) {-12};
\node[lblw] (k14) at (886,1149.5) {-14};
\node[lblw] (kun) at (895,1121.7) {δ\textsuperscript{18}O (‰ VPDB)};
\node[lblw] (m44) at (889,1197.3) {4.4};
\node[lblw] (m48) at (889,1296) {4.8};
\node[lblw] (mun) at (890,1249.6) {δ\textsuperscript{18}O\raisebox{-0.35ex}{\fsz{9}ocean}(‰)};
\node[lblw] (o35) at (886,1372) {-35};
\node[lblw] (o40) at (886,1436) {-40};
\node[lblw] (o45) at (886,1499) {-45};
\node[lblw] (oun) at (897,1470) {δ\textsuperscript{18}O (‰)};
% ---------- axes
\draw[line width=0.9pt] (32.6,29) -- (876,29);
\draw[line width=0.9pt] (32.6,1552) -- (876,1552);
\draw[line width=0.9pt] (32.6,29) -- (32.6,1552);
\draw[line width=0.9pt] (876,29) -- (876,1552);
\foreach \k/\v in {0/20,1/25,2/30,3/35,4/40,5/45} {
  \draw[tick] ({32.6+168.6*\k},29) -- ++(0,-5);
  \draw[tick] ({32.6+168.6*\k},1552) -- ++(0,5);
  \node[lbl] (top\v) at ({32.6+168.6*\k},14) {\v};
  \node[lbl] (bot\v) at ({32.6+168.6*\k},1559) {\v};
}
\node[lbl] (agt) at (795,14) {Age (ka)};
\node[lbl] (agb) at (798,1559) {Age (ka)};
% ---------- row letters
\foreach \t/\y in {A/77,B/309,C/459,D/592,F/673,H/794,I/935.5,J/1008,K/1075.5,L/1217,M/1309,N/1376,O/1466}
  \node[big] (L\t) at (15.7,\y) {\t};
\node[big] (LE) at (301.7,648.7) {E};
\node[big] (LG) at (381.6,737) {G};
\end{tikzpicture}
\end{document}
